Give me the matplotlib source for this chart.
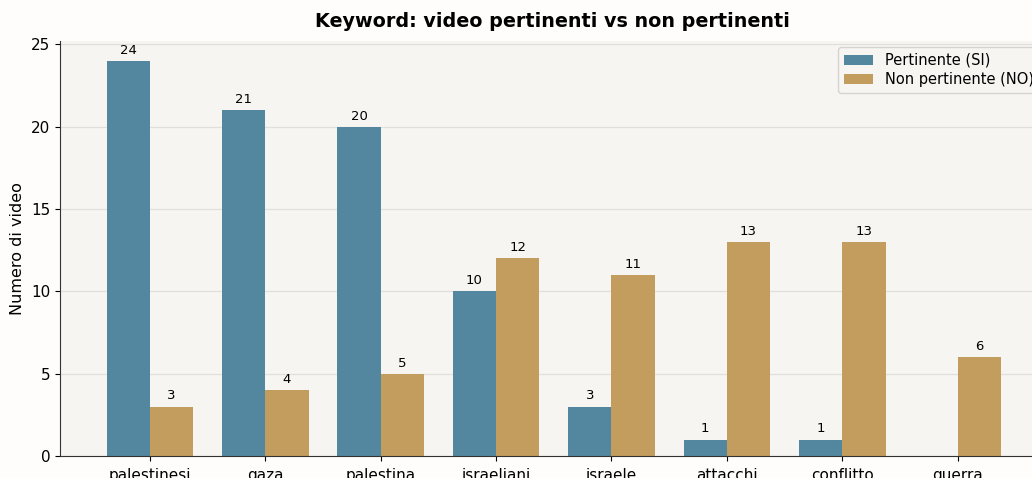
import numpy as np
import matplotlib
matplotlib.use("Agg")
import matplotlib.pyplot as plt

# conteggi per keyword
keywords = ["palestinesi", "gaza", "palestina", "israeliani", "israele",
            "attacchi", "conflitto", "guerra"]
pertinenti = [24, 21, 20, 10, 3, 1, 1, 0]
non_pertinenti = [3, 4, 5, 12, 11, 13, 13, 6]

col_si = "#52879f"
col_no = "#c29d5e"

fig = plt.figure(figsize=(10.32, 4.78), dpi=100, facecolor="#fefdfc")
ax = fig.add_axes([0.058, 0.046, 0.955, 0.868])
ax.set_facecolor("#f7f5f1")

x = np.arange(len(keywords))
w = 0.375
b1 = ax.bar(x - w / 2, pertinenti, w, color=col_si, label="Pertinente (SI)")
b2 = ax.bar(x + w / 2, non_pertinenti, w, color=col_no, label="Non pertinente (NO)")

# etichette sopra le barre (niente etichetta se zero)
for bars in (b1, b2):
    for r in bars:
        h = r.get_height()
        if h > 0:
            ax.annotate(f"{int(h)}", (r.get_x() + r.get_width() / 2, h),
                        xytext=(0, 3), textcoords="offset points",
                        ha="center", va="bottom", fontsize=9.5)

ax.set_xlim(-0.78, 7.76)
ax.set_xticks(x)
ax.set_xticklabels(keywords, fontsize=11)
ax.tick_params(axis="x", pad=5)
ax.tick_params(axis="y", labelsize=11)
ax.set_ylabel("Numero di video", fontsize=11.5)
ax.set_title("Keyword: video pertinenti vs non pertinenti",
             fontsize=13.8, fontweight="bold", pad=10)

ax.yaxis.grid(True, color="#dcdad6", linewidth=0.9, alpha=0.8)
ax.set_axisbelow(True)
for s in ("top", "right"):
    ax.spines[s].set_visible(False)
for s in ("left", "bottom"):
    ax.spines[s].set_color("#333333")

ax.legend(loc="upper right", fontsize=10.5, frameon=True, facecolor="#f7f5f1",
          edgecolor="#cccccc", handlelength=2.0, labelspacing=0.3,
          borderaxespad=0.4)

fig.savefig("out.png", dpi=100, facecolor=fig.get_facecolor())
